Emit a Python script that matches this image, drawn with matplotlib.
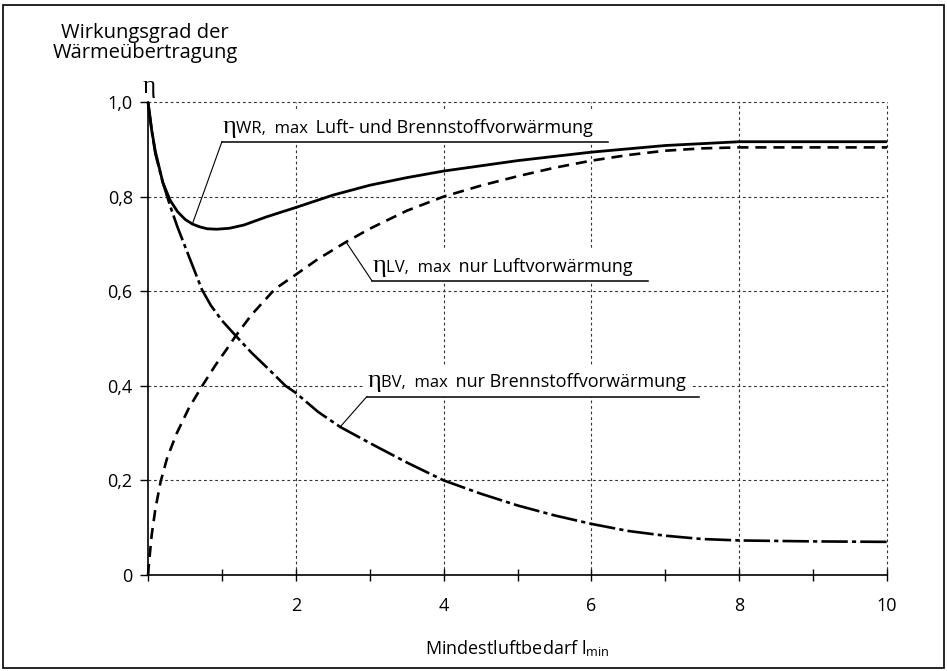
import matplotlib
matplotlib.use("Agg")
from matplotlib import pyplot as plt
from matplotlib.patches import Rectangle
from matplotlib.offsetbox import TextArea, HPacker, AnnotationBbox

plt.rcParams["font.family"] = ["Open Sans", "DejaVu Sans"]
plt.rcParams["mathtext.fontset"] = "custom"
plt.rcParams["mathtext.rm"] = "Open Sans"
plt.rcParams["mathtext.it"] = "Liberation Serif"
plt.rcParams["lines.scale_dashes"] = False

# air + fuel preheating (WR)
wr_x = [0, 0.05, 0.1, 0.2, 0.3, 0.4, 0.5, 0.6, 0.7, 0.8, 0.93, 1.1, 1.3, 1.6,
        2.0, 2.5, 3.0, 3.5, 4.0, 5.0, 6.0, 7.0, 8.0, 9.0, 10.0]
wr_y = [1.0, 0.94, 0.895, 0.83, 0.792, 0.768, 0.752, 0.742, 0.736, 0.732, 0.731,
        0.733, 0.740, 0.757, 0.777, 0.803, 0.824, 0.840, 0.854, 0.876, 0.894,
        0.908, 0.916, 0.916, 0.916]

# air preheating only (LV)
lv_x = [0, 0.01, 0.05, 0.1, 0.17, 0.26, 0.39, 0.55, 0.73, 0.91, 1.09, 1.18, 1.4,
        1.72, 2.0, 2.3, 2.68, 3.0, 3.5, 4.0, 4.5, 5.0, 5.5, 6.0, 6.5, 7.0, 7.5,
        8.0, 9.0, 10.0]
lv_y = [0, 0.02, 0.085, 0.14, 0.197, 0.248, 0.3, 0.352, 0.399, 0.443, 0.483, 0.504,
        0.55, 0.605, 0.635, 0.668, 0.704, 0.732, 0.77, 0.8, 0.823, 0.843, 0.861,
        0.876, 0.888, 0.897, 0.902, 0.904, 0.904, 0.904]

# fuel preheating only (BV)
bv_x = [0, 0.05, 0.1, 0.2, 0.3, 0.4, 0.5, 0.6, 0.73, 0.85, 1.0, 1.18, 1.4, 1.6,
        1.86, 2.0, 2.3, 2.6, 3.0, 3.5, 4.0, 4.5, 5.0, 5.5, 6.0, 6.5, 7.0, 7.5,
        8.0, 9.0, 10.0]
bv_y = [1.0, 0.94, 0.89, 0.83, 0.78, 0.735, 0.695, 0.655, 0.603, 0.57, 0.538, 0.507,
        0.47, 0.44, 0.4, 0.385, 0.345, 0.313, 0.279, 0.238, 0.2, 0.172, 0.147,
        0.126, 0.108, 0.093, 0.083, 0.076, 0.073, 0.071, 0.07]

y_ticks = [0, 0.2, 0.4, 0.6, 0.8, 1.0]
y_tick_labels = ["0", "0,2", "0,4", "0,6", "0,8", "1,0"]
x_ticks = [0, 1, 2, 3, 4, 5, 6, 7, 8, 9, 10]
x_tick_labels = ["", "", "2", "", "4", "", "6", "", "8", "", "10"]
x_grid = [2, 4, 6, 8, 10]
y_grid = [0.2, 0.4, 0.6, 0.8, 1.0]

# subscript, label text, underline (x0, x1, y), curve and index of the point the leader goes to
labels = [
    ("WR,  max", "Luft- und Brennstoffvorwärmung", (1.0, 6.22, 0.916), wr_x, wr_y, 7),
    ("LV,  max", "nur Luftvorwärmung", (3.03, 6.77, 0.622), lv_x, lv_y, 16),
    ("BV,  max", "nur Brennstoffvorwärmung", (2.96, 7.45, 0.377), bv_x, bv_y, 17),
]

fig = plt.figure(figsize=(9.47, 6.71), dpi=100)
ax = fig.add_axes([0.1563, 0.1431, 0.7804, 0.7049])
ax.set_xlim(0, 10)
ax.set_ylim(0, 1)

for gx in x_grid:
    ax.axvline(gx, color="#333333", lw=0.8, linestyle=(0, (2, 2)), zorder=0, clip_on=False)
for gy in y_grid:
    ax.axhline(gy, color="#333333", lw=0.8, linestyle=(0, (2, 2)), zorder=0, clip_on=False)

ax.plot(wr_x, wr_y, color="black", lw=2.0, solid_capstyle="butt", clip_on=False, zorder=3)
ax.plot(lv_x, lv_y, color="black", lw=1.9, linestyle=(0, (8, 5)), clip_on=False, zorder=3)
ax.plot(bv_x, bv_y, color="black", lw=1.9, linestyle=(0, (19, 3, 3, 3)), clip_on=False, zorder=3)

for sub, text, (x0, x1, yl), cx, cy, idx in labels:
    # underline and leader sit on top of the white text box
    ax.plot([x0, x1], [yl, yl], color="black", lw=1.1, zorder=6)
    ax.plot([x0, cx[idx]], [yl, cy[idx]], color="black", lw=0.8, zorder=6)
    symbol = HPacker(children=[
        TextArea("η", textprops=dict(family="Liberation Serif", size=19)),
        TextArea(sub, textprops=dict(size=12)),
    ], align="baseline", pad=0, sep=0)
    parts = HPacker(children=[
        symbol,
        TextArea(" " + text, textprops=dict(size=13)),
    ], align="baseline", pad=0, sep=2)
    box = AnnotationBbox(parts, (x0, yl), xybox=(0.5, 3), xycoords="data",
                         boxcoords="offset points", box_alignment=(0, 0),
                         frameon=True, pad=0.15,
                         bboxprops=dict(boxstyle="square", fc="white", ec="none"))
    box.set_zorder(5)
    ax.add_artist(box)

for side in ["top", "right"]:
    ax.spines[side].set_visible(False)
ax.spines["left"].set_linewidth(1.2)
ax.spines["bottom"].set_linewidth(1.2)

ax.set_yticks(y_ticks)
ax.set_yticklabels(y_tick_labels, fontsize=13)
ax.set_xticks(x_ticks)
ax.set_xticklabels(x_tick_labels, fontsize=13)
ax.tick_params(axis="y", direction="out", length=6, width=1.0, pad=5)
ax.tick_params(axis="x", direction="inout", length=9, width=1.0, pad=11)

ax.set_xlabel(r"Mindestluftbedarf l$_{\mathrm{min}}$", fontsize=13, labelpad=17)

fig.text(0.153, 0.9355, "Wirkungsgrad der\nWärmeübertragung", ha="center", va="center",
         fontsize=14.5, linespacing=1.0)
fig.text(0.158, 0.87, "η", ha="center", va="center", fontsize=18, family="Liberation Serif")

fig.patches.append(Rectangle((0.0032, 0.0045), 0.9936, 0.988, transform=fig.transFigure,
                             fill=False, lw=1.2, ec="black"))

fig.savefig("out.png", dpi=100)
